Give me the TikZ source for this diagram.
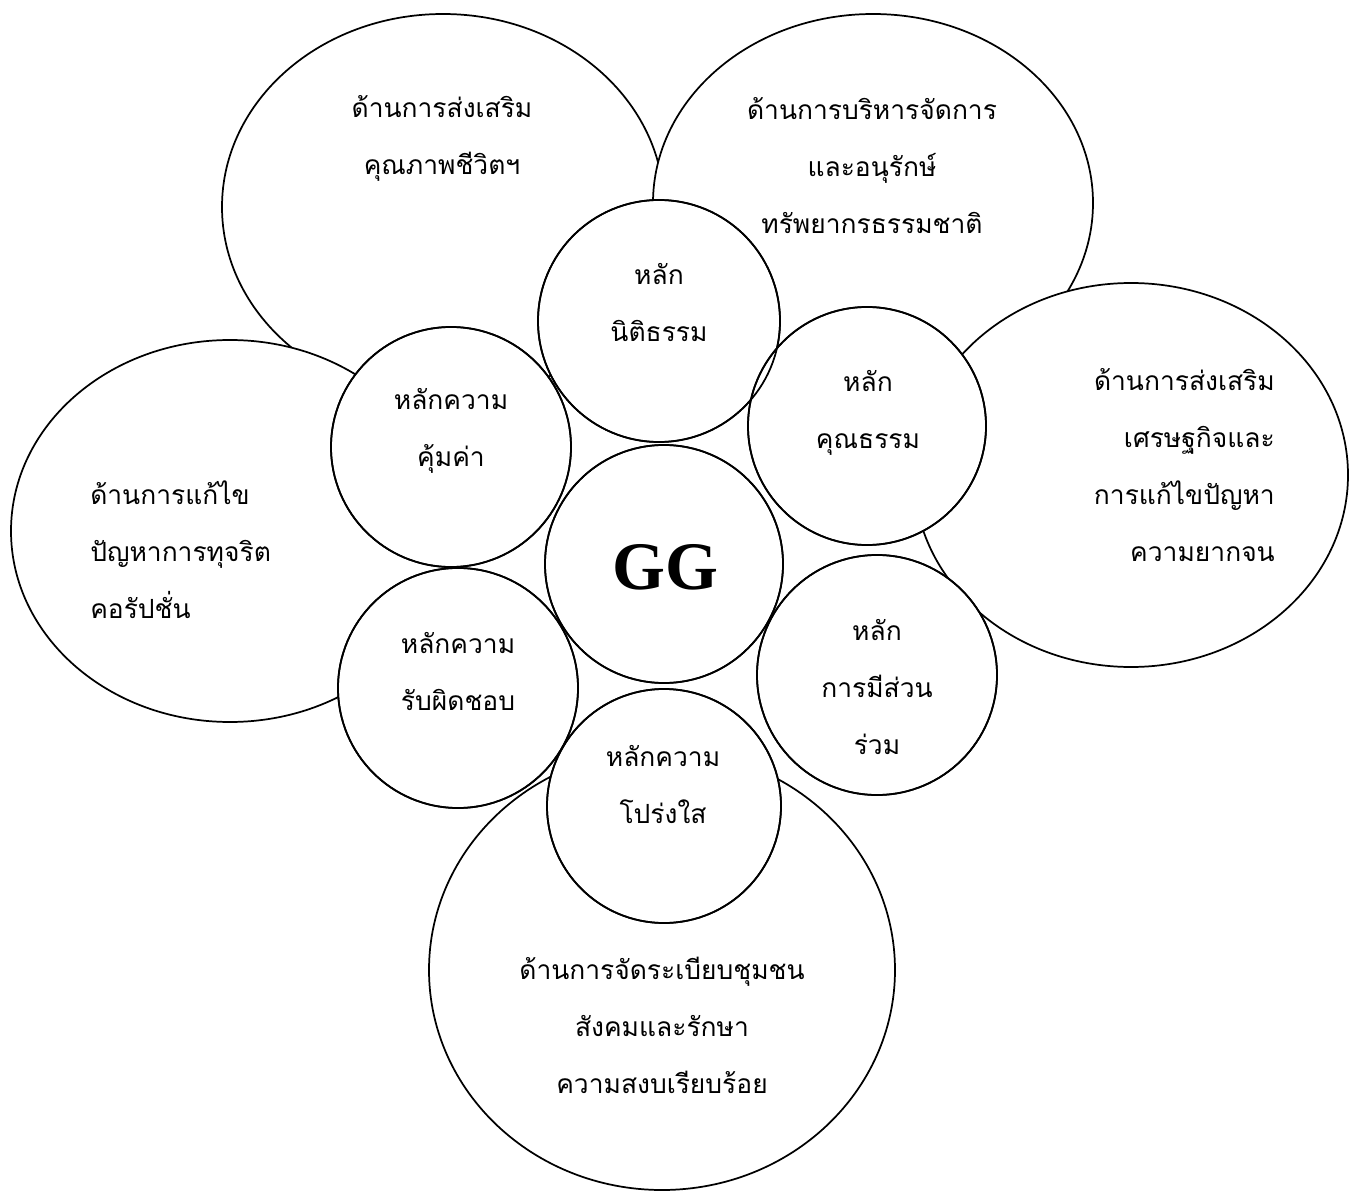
\documentclass[tikz,border=0pt]{standalone}
\usepackage{fontspec}
\usetikzlibrary{shapes.geometric}
\newfontfamily\thaifont[Script=Thai]{Loma}
\newfontfamily\ggfont{Liberation Serif}
\begin{document}
\begin{tikzpicture}[x=0.75pt,y=-0.75pt,
  bigell/.style={ellipse,draw=black,fill=white,line width=1.3pt,inner sep=0pt,outer sep=0pt},
  smallc/.style={circle,draw=black,fill=white,line width=1.3pt,inner sep=0pt,outer sep=0pt},
  ring/.style={circle,draw=black,line width=1.3pt,inner sep=0pt,outer sep=0pt},
  lbl/.style={font={\thaifont\fontsize{19.8}{42.75}\selectfont},inner sep=0pt,text=black}]
\useasboundingbox (0,0) rectangle (1350,1191);
% big ellipses
\node[bigell,minimum width=331.5pt,minimum height=289.5pt] (e1) at (443,207) {};
\node[bigell,minimum width=330pt,minimum height=283.5pt] (e2) at (873,203) {};
\node[bigell,minimum width=328.5pt,minimum height=286.5pt] (e3) at (230,531) {};
\node[bigell,minimum width=325.5pt,minimum height=288pt] (e4) at (1131,475) {};
\node[bigell,minimum width=349.5pt,minimum height=330pt] (e5) at (662,970) {};
% small circles (fill)
\node[smallc,minimum size=181.5pt] (c1) at (659,321) {};
\node[smallc,minimum size=180pt] (c2) at (451,447) {};
\node[smallc,minimum size=178.5pt] (c3) at (867,426) {};
\node[smallc,minimum size=178.5pt] (c4) at (664,564) {};
\node[smallc,minimum size=180pt] (c5) at (458,688) {};
\node[smallc,minimum size=180pt] (c6) at (877,675) {};
\node[smallc,minimum size=175.5pt] (c7) at (664,806) {};
% outlines again
\node[ring,minimum size=181.5pt] (r1) at (c1) {};
\node[ring,minimum size=180pt] (r2) at (c2) {};
\node[ring,minimum size=178.5pt] (r3) at (c3) {};
\node[ring,minimum size=178.5pt] (r4) at (c4) {};
\node[ring,minimum size=180pt] (r5) at (c5) {};
\node[ring,minimum size=180pt] (r6) at (c6) {};
\node[ring,minimum size=175.5pt] (r7) at (c7) {};
% ellipse labels
\node[lbl,align=center] (t1) at (442,138) {ด้านการส่งเสริม\\คุณภาพชีวิตฯ};
\node[lbl,align=center] (t2) at (872,166) {ด้านการบริหารจัดการ\\และอนุรักษ์\\ทรัพยากรธรรมชาติ};
\node[lbl,align=left,anchor=west] (t3) at (90,550) {ด้านการแก้ไข\\ปัญหาการทุจริต\\คอรัปชั่น};
\node[lbl,align=right,anchor=east] (t4) at (1275,465) {ด้านการส่งเสริม\\เศรษฐกิจและ\\การแก้ไขปัญหา\\ความยากจน};
\node[lbl,align=center] (t5) at (662,1025) {ด้านการจัดระเบียบชุมชน\\สังคมและรักษา\\ความสงบเรียบร้อย};
% circle labels
\node[lbl,align=center] (l1) at (659,303) {หลัก\\นิติธรรม};
\node[lbl,align=center] (l2) at (451,431) {หลักความ\\คุ้มค่า};
\node[lbl,align=center] (l3) at (868,413) {หลัก\\คุณธรรม};
\node[inner sep=0pt,font={\ggfont\bfseries\fontsize{51}{51}\selectfont}] (gg) at (665,567) {GG};
\node[lbl,align=center] (l5) at (458,672) {หลักความ\\รับผิดชอบ};
\node[lbl,align=center] (l6) at (877,687) {หลัก\\การมีส่วน\\ร่วม};
\node[lbl,align=center] (l7) at (663,785) {หลักความ\\โปร่งใส};
\end{tikzpicture}
\end{document}
